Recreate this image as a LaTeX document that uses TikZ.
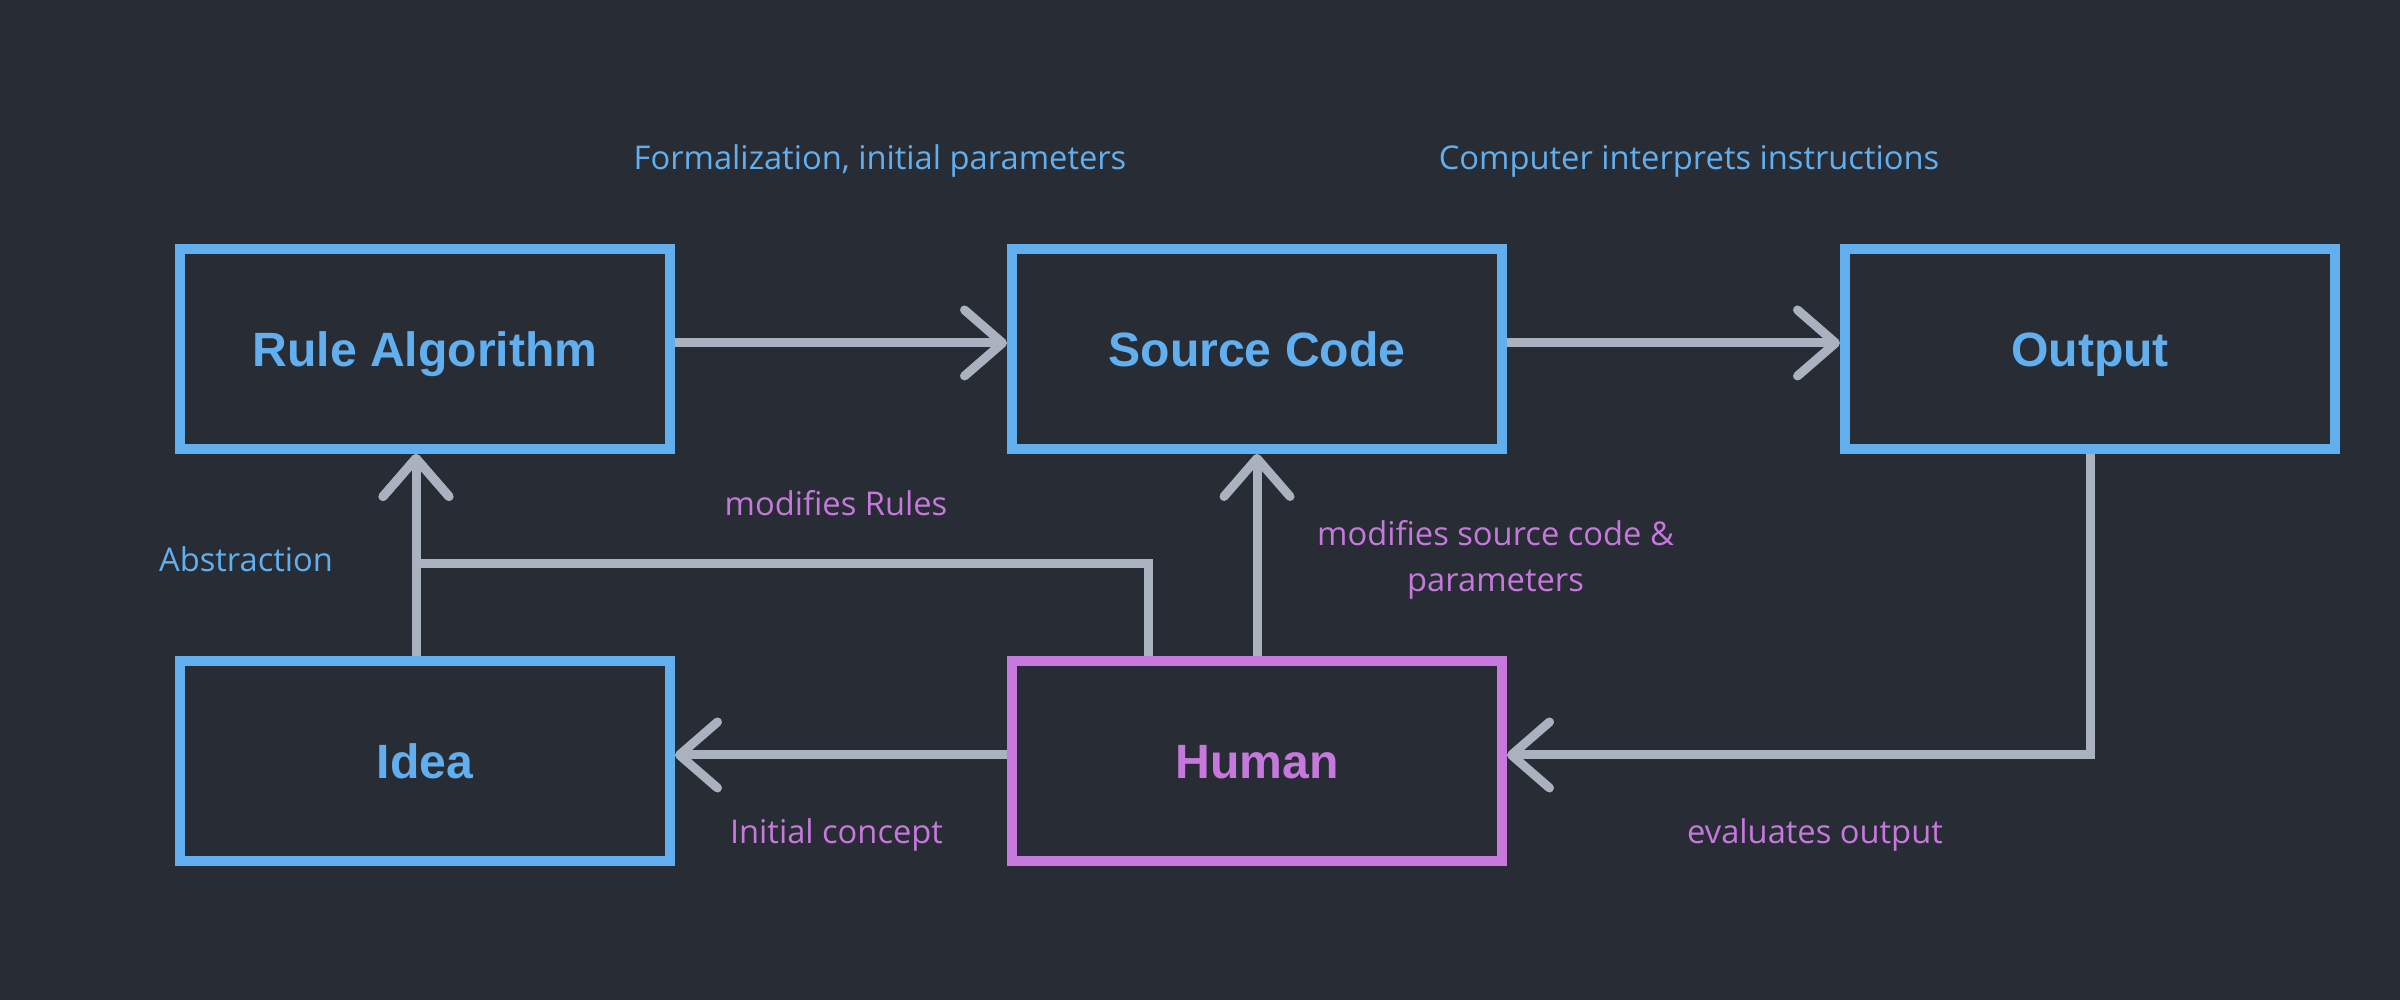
\documentclass[tikz,border=0pt]{standalone}
\usepackage{xcolor}
\usepackage{fontspec}
\setmainfont{Open Sans}
\newfontfamily\headfont{Liberation Sans}
\definecolor{bgc}{HTML}{282C34}
\definecolor{blu}{HTML}{61AFEF}
\definecolor{pur}{HTML}{C678DD}
\definecolor{gry}{HTML}{ABB2BF}
\usepackage{tikz}
\usetikzlibrary{arrows.meta}

\begin{document}
\begin{tikzpicture}
[blk/.style={rectangle,draw=blu,line width=1mm,minimum width=4.9cm,minimum height=2cm,
  text=blu,font=\headfont\bfseries\fontsize{13.7pt}{16pt}\selectfont,text height=0.35cm,text depth=0pt},
hum/.style={blk,draw=pur,text=pur},
lblb/.style={text=blu,anchor=base,inner sep=0pt,font=\fontsize{9.3pt}{13.1pt}\selectfont},
lblp/.style={lblb,text=pur},
arr/.style={draw=gry,line width=0.9mm,-{Straight Barb[length=3.8mm,width=6.6mm,round]}}]

\fill [bgc] (0,0) rectangle (24,10);
\useasboundingbox (0,0) rectangle (24,10);

\node at (4.25,6.51)  [blk] (rule)  {Rule Algorithm};
\node at (12.57,6.51) [blk] (src)   {Source Code};
\node at (20.90,6.51) [blk] (out)   {Output};
\node at (4.25,2.39)  [blk] (idea)  {Idea};
\node at (12.57,2.39) [hum] (human) {Human};

\node at (8.80,8.307)  [lblb] (formal) {Formalization, initial parameters};
\node at (16.89,8.307) [lblb] (interp) {Computer interprets instructions};
\node at (2.46,4.283)  [lblb] (abstr)  {Abstraction};
\node at (8.36,4.843)  [lblp] (modrul) {modifies Rules};
\node at (14.955,4.08) [lblp,align=center] (modsrc) {modifies source code \&\\parameters};
\node at (8.365,1.56)  [lblp] (initc)  {Initial concept};
\node at (18.15,1.56)  [lblp] (evalo)  {evaluates output};

\draw [arr] ([yshift=0.06cm]rule.east) to ([yshift=0.06cm]src.west);
\draw [arr] ([yshift=0.06cm]src.east) to ([yshift=0.06cm]out.west);
\draw [arr] ([xshift=-0.09cm]idea.north) to ([xshift=-0.09cm]rule.south);
\draw [arr] ([xshift=-1.09cm]human.north) -- ++(0,0.92) -| ([xshift=-0.09cm]rule.south);
\draw [arr] (human.north) to (src.south);
\draw [arr] ([yshift=0.06cm]human.west) to ([yshift=0.06cm]idea.east);
\draw [arr] (out.south) |- ([yshift=0.06cm]human.east);
\end{tikzpicture}
\end{document}
